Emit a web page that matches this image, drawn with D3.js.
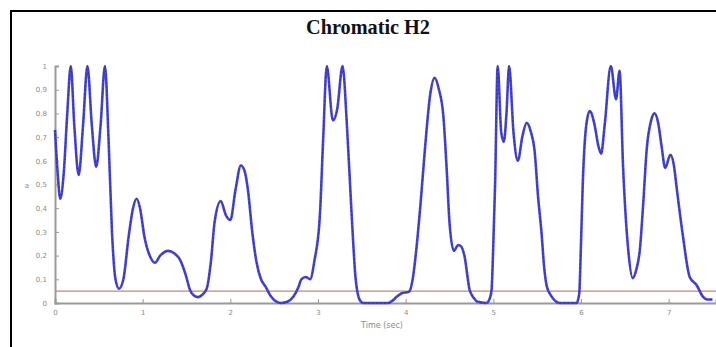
<!DOCTYPE html>
<html>
<head>
<meta charset="utf-8">
<script src="https://cdn.jsdelivr.net/npm/d3@7"></script>
<style>
  html, body { margin: 0; padding: 0; background: #fff; }
  svg { display: block; }
</style>
</head>
<body>
<svg id="chart" width="716" height="347"></svg>
<script>
// Normalised chromatic H2 envelope over time (seconds)
const timeSec = [
  0.00, 0.03, 0.06, 0.10, 0.14, 0.18, 0.22, 0.27, 0.32, 0.37, 0.42, 0.47, 0.52, 0.57,
  0.61, 0.65, 0.69, 0.73, 0.78, 0.84, 0.89, 0.93, 0.97, 1.02, 1.08, 1.14, 1.20, 1.29,
  1.36, 1.43, 1.49, 1.54, 1.59, 1.63, 1.68, 1.73, 1.78, 1.82, 1.89, 1.95, 2.00, 2.06,
  2.12, 2.16, 2.20, 2.25, 2.30, 2.35, 2.40, 2.46, 2.53, 2.58, 2.65, 2.72, 2.78, 2.81,
  2.86, 2.91, 2.96, 3.02, 3.06, 3.10, 3.17, 3.22, 3.28, 3.33, 3.38, 3.43, 3.48, 3.52,
  3.80, 3.85, 3.90, 3.95, 4.04, 4.08, 4.12, 4.17, 4.22, 4.28, 4.33, 4.38, 4.43, 4.47,
  4.50, 4.55, 4.60, 4.63, 4.67, 4.73, 4.78, 4.82, 4.92, 4.96, 4.98, 5.00, 5.02, 5.05,
  5.09, 5.12, 5.15, 5.18, 5.23, 5.28, 5.33, 5.38, 5.43, 5.47, 5.51, 5.55, 5.58, 5.61,
  5.66, 5.72, 5.76, 5.95, 5.98, 6.00, 6.02, 6.06, 6.10, 6.15, 6.20, 6.23, 6.27, 6.34,
  6.40, 6.44, 6.48, 6.54, 6.59, 6.63, 6.67, 6.71, 6.75, 6.80, 6.84, 6.88, 6.92, 6.96,
  7.02, 7.06, 7.09, 7.16, 7.24, 7.32, 7.39, 7.44, 7.50
];
const envelope = [
  0.73, 0.55, 0.44, 0.55, 0.80, 1.00, 0.75, 0.54, 0.75, 1.00, 0.75, 0.575, 0.75, 1.00,
  0.70, 0.30, 0.10, 0.06, 0.10, 0.28, 0.40, 0.44, 0.40, 0.28, 0.20, 0.17, 0.20, 0.22,
  0.21, 0.18, 0.12, 0.055, 0.03, 0.025, 0.035, 0.06, 0.18, 0.34, 0.43, 0.37, 0.35, 0.48,
  0.58, 0.56, 0.48, 0.30, 0.17, 0.10, 0.07, 0.03, 0.005, 0.0, 0.005, 0.027, 0.07, 0.10,
  0.11, 0.10, 0.18, 0.36, 0.70, 1.00, 0.77, 0.82, 1.00, 0.75, 0.40, 0.10, 0.01, 0.0,
  0.0, 0.01, 0.027, 0.04, 0.048, 0.10, 0.22, 0.42, 0.65, 0.88, 0.95, 0.90, 0.79, 0.55,
  0.34, 0.22, 0.245, 0.24, 0.20, 0.055, 0.02, 0.005, 0.0, 0.02, 0.055, 0.25, 0.50, 1.00,
  0.72, 0.68, 0.80, 1.00, 0.72, 0.60, 0.70, 0.76, 0.72, 0.645, 0.45, 0.295, 0.15, 0.07,
  0.03, 0.005, 0.0, 0.0, 0.04, 0.25, 0.50, 0.75, 0.81, 0.76, 0.66, 0.63, 0.75, 1.00,
  0.86, 0.98, 0.575, 0.22, 0.105, 0.14, 0.22, 0.42, 0.65, 0.77, 0.80, 0.76, 0.66, 0.57,
  0.625, 0.58, 0.49, 0.29, 0.11, 0.075, 0.027, 0.015, 0.015
];
const threshold = 0.05;
const xTicks = [0, 1, 2, 3, 4, 5, 6, 7];
const yTicks = [0, 0.1, 0.2, 0.3, 0.4, 0.5, 0.6, 0.7, 0.8, 0.9, 1];
const titleText = "Chromatic H2";
const xLabel = "Time (sec)";
const yLabel = "a";

const svg = d3.select("#chart");

// Outer frame (top and left edges visible)
svg.append("path")
  .attr("d", "M11,347 L11,11 L716,11")
  .attr("fill", "none")
  .attr("stroke", "#000")
  .attr("stroke-width", 2);

svg.append("text")
  .attr("x", 368).attr("y", 34)
  .attr("text-anchor", "middle")
  .attr("font-family", "Liberation Serif, serif")
  .attr("font-weight", "bold")
  .attr("font-size", 22)
  .attr("textLength", 124)
  .attr("lengthAdjust", "spacingAndGlyphs")
  .attr("fill", "#111")
  .text(titleText);

const x = d3.scaleLinear().domain([0, 7.54]).range([55, 716]);
const y = d3.scaleLinear().domain([0, 1]).range([303, 66]);

const axisColor = "#9a9a9a";
const labelColor = "#8a8a8a";

// X axis along the bottom, ticks pointing up into the plot
const xAxis = svg.append("g").attr("transform", "translate(0,303)")
  .call(d3.axisBottom(x).tickValues(xTicks).tickSize(-4).tickPadding(7)
    .tickFormat(d3.format("d")));
xAxis.select(".domain").attr("stroke", axisColor).attr("stroke-width", 2);
xAxis.selectAll(".tick line").attr("stroke", axisColor);
xAxis.selectAll(".tick text").attr("fill", labelColor)
  .attr("font-family", "DejaVu Sans, sans-serif").attr("font-size", 7);

// Y axis on the left, ticks pointing right into the plot
const yAxis = svg.append("g").attr("transform", "translate(55,0)")
  .call(d3.axisLeft(y).tickValues(yTicks).tickSize(-4).tickPadding(8)
    .tickFormat(d => d === 0 || d === 1 ? String(d) : d3.format(".1f")(d).replace(".", ",")));
yAxis.select(".domain").attr("stroke", axisColor).attr("stroke-width", 2);
yAxis.selectAll(".tick line").attr("stroke", axisColor);
yAxis.selectAll(".tick text").attr("fill", labelColor)
  .attr("font-family", "DejaVu Sans, sans-serif").attr("font-size", 7);

svg.append("text")
  .attr("x", 382).attr("y", 328)
  .attr("text-anchor", "middle")
  .attr("font-family", "DejaVu Sans, sans-serif")
  .attr("font-size", 8)
  .attr("fill", labelColor)
  .text(xLabel);

svg.append("text")
  .attr("x", 27).attr("y", 188)
  .attr("text-anchor", "middle")
  .attr("font-family", "DejaVu Sans, sans-serif")
  .attr("font-size", 7)
  .attr("fill", labelColor)
  .text(yLabel);

// Threshold level
svg.append("line")
  .attr("x1", x(0) + 1).attr("x2", 716)
  .attr("y1", y(threshold)).attr("y2", y(threshold))
  .attr("stroke", "#c08878")
  .attr("stroke-width", 1.2);

// Envelope curve
const pts = timeSec.map((t, i) => [t, envelope[i]]);
const line = d3.line()
  .x(d => x(d[0]))
  .y(d => y(d[1]))
  .curve(d3.curveMonotoneX);

svg.append("path")
  .attr("d", line(pts))
  .attr("fill", "none")
  .attr("stroke", "#4646d8")
  .attr("stroke-width", 2.6)
  .attr("stroke-linejoin", "round");

svg.append("path")
  .attr("d", line(pts))
  .attr("fill", "none")
  .attr("stroke", "#22228a")
  .attr("stroke-width", 1)
  .attr("stroke-dasharray", "2,2")
  .attr("opacity", 0.6);
</script>
</body>
</html>
